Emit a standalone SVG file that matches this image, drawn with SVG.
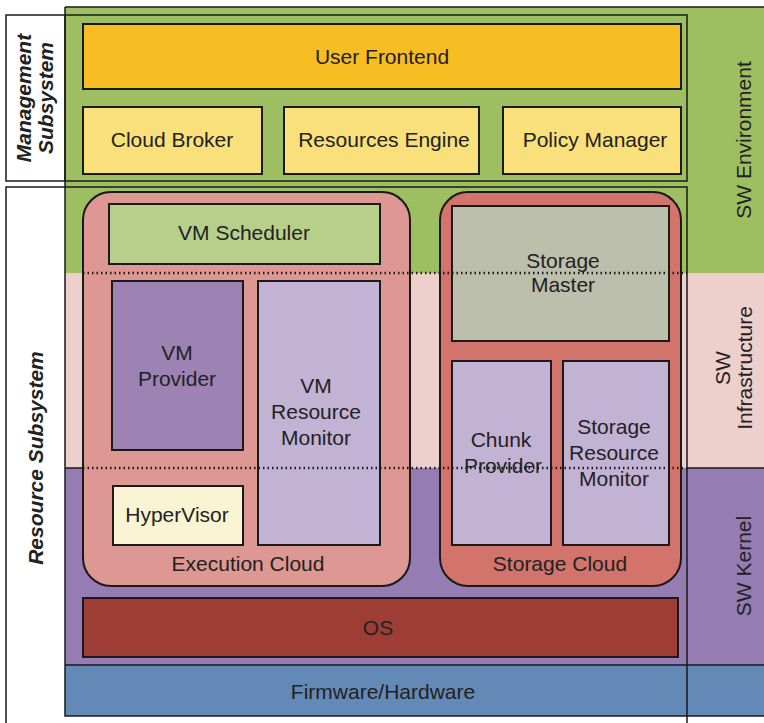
<svg xmlns="http://www.w3.org/2000/svg" width="764" height="723" viewBox="0 0 764 723">
<style>
.box{stroke:#1a1a1a;stroke-width:2}
.ln{stroke:#1a1a1a;stroke-width:1.5;fill:none}
.dot{stroke:#1a1a1a;stroke-width:2.5;stroke-dasharray:1.5 3;fill:none}
text{font-family:"Liberation Sans",Arial,sans-serif;font-size:21px;fill:#222;text-anchor:middle}
.lbl{font-weight:bold;font-style:italic;font-size:21px}
</style>
<rect width="764" height="723" fill="#fff"/>
<g id="bands">
<rect x="65" y="7" width="699" height="266" fill="#9dbf62"/>
<rect x="65" y="273" width="699" height="195" fill="#edcfcc"/>
<rect x="65" y="468" width="699" height="197" fill="#957cb2"/>
<rect x="65" y="665" width="699" height="51" fill="#6389b7"/>
<path class="ln" d="M65 7H764M65 7V716H764M65 665H764M687 468H764M65 468H83"/>
</g>
<g id="management-subsystem">
<rect class="ln" x="6" y="15" width="681" height="166" fill="none"/>
<line class="ln" x1="65" y1="15" x2="65" y2="181"/>
<text class="lbl" transform="translate(31 98) rotate(-90)">Management</text>
<text class="lbl" transform="translate(53 98) rotate(-90)">Subsystem</text>
</g>
<g id="resource-subsystem">
<rect class="ln" x="6" y="187" width="681" height="560" fill="none"/>
<text class="lbl" transform="translate(43 458) rotate(-90)">Resource Subsystem</text>
</g>
<g id="user-frontend"><rect class="box" x="83" y="24" width="598" height="65" fill="#f8bd23"/><text x="382" y="64">User Frontend</text></g>
<g id="cloud-broker"><rect class="box" x="83" y="107" width="179" height="67" fill="#f9e07a"/><text x="172" y="147">Cloud Broker</text></g>
<g id="resources-engine"><rect class="box" x="284" y="107" width="195" height="67" fill="#f9e07a"/><text x="384" y="147">Resources Engine</text></g>
<g id="policy-manager"><rect class="box" x="503" y="107" width="178" height="67" fill="#f9e07a"/><text x="595" y="147">Policy Manager</text></g>
<g id="execution-cloud"><rect class="box" x="83" y="192" width="327" height="394" rx="28" fill="#dd9893"/><text x="248" y="571">Execution Cloud</text></g>
<g id="storage-cloud"><rect class="box" x="440" y="192" width="241" height="394" rx="28" fill="#d2736c"/><text x="560" y="571">Storage Cloud</text></g>
<g id="vm-scheduler"><rect class="box" x="109" y="204" width="271" height="60" fill="#b8cf8b"/><text x="244" y="240">VM Scheduler</text></g>
<g id="storage-master"><rect class="box" x="452" y="206" width="217" height="135" fill="#bcbfab"/><text x="563" y="268">Storage</text><text x="563" y="292">Master</text></g>
<g id="vm-provider"><rect class="box" x="112" y="281" width="131" height="169" fill="#9c83b4"/><text x="177" y="360">VM</text><text x="177" y="386">Provider</text></g>
<g id="vm-resource-monitor"><rect class="box" x="258" y="281" width="122" height="264" fill="#c2b2d4"/><text x="316" y="393">VM</text><text x="316" y="419">Resource</text><text x="316" y="445">Monitor</text></g>
<g id="hypervisor"><rect class="box" x="113" y="486" width="130" height="59" fill="#f9f5d4"/><text x="177" y="522">HyperVisor</text></g>
<g id="chunk-provider"><rect class="box" x="452" y="361" width="99" height="184" fill="#c2b2d4"/><text x="501" y="447">Chunk</text><text x="503" y="473">Provider</text></g>
<g id="storage-resource-monitor"><rect class="box" x="563" y="361" width="106" height="184" fill="#c2b2d4"/><text x="614" y="434">Storage</text><text x="614" y="460">Resource</text><text x="614" y="486">Monitor</text></g>
<g id="os"><rect class="box" x="83" y="598" width="595" height="59" fill="#9e3c36"/><text x="378" y="635">OS</text></g>
<g id="firmware"><text x="383" y="699">Firmware/Hardware</text></g>
<g id="connectors">
<path class="dot" d="M83 273H687M83 468H687"/>
</g>
<g id="layer-labels">
<text transform="translate(751 140) rotate(-90)">SW Environment</text>
<text transform="translate(730 368) rotate(-90)">SW</text>
<text transform="translate(752 368) rotate(-90)">Infrastructure</text>
<text transform="translate(751 566) rotate(-90)">SW Kernel</text>
</g>
</svg>
